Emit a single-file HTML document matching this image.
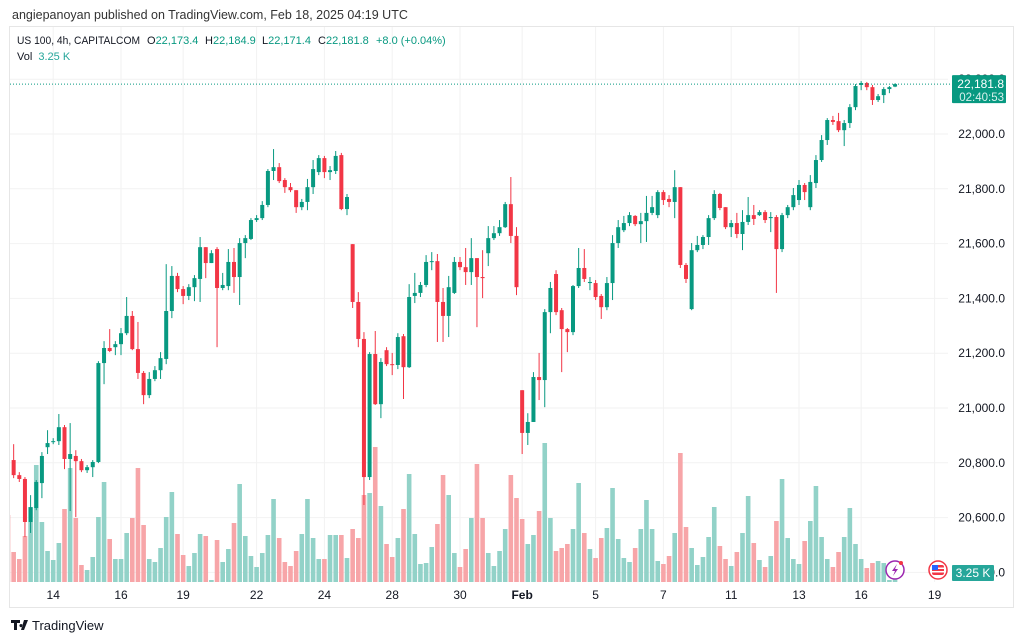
<!DOCTYPE html>
<html><head><meta charset="utf-8"><style>
html,body{margin:0;padding:0;background:#fff;}
svg{display:block;font-family:"Liberation Sans",sans-serif;}
</style></head><body>
<svg id="c" width="1024" height="641" viewBox="0 0 1024 641">
<defs><clipPath id="pane"><rect x="10" y="27" width="940" height="556"/></clipPath></defs>
<text x="12" y="19" font-size="12.5" fill="#333">angiepanoyan published on TradingView.com, Feb 18, 2025 04:19 UTC</text>
<rect x="9.5" y="26.5" width="1004" height="581" fill="none" stroke="#e6e6e6"/>
<g id="grid"></g>
<g id="vol" clip-path="url(#pane)"></g>
<g id="candles" clip-path="url(#pane)"></g>
<g id="axis"></g>
<g id="xaxis"></g>
<g font-size="11">
<text x="17" y="44" fill="#131722" textLength="123" lengthAdjust="spacingAndGlyphs">US 100, 4h, CAPITALCOM</text>
<text x="147" y="44" fill="#131722">O<tspan fill="#089981">22,173.4</tspan></text>
<text x="205" y="44" fill="#131722">H<tspan fill="#089981">22,184.9</tspan></text>
<text x="262" y="44" fill="#131722">L<tspan fill="#089981">22,171.4</tspan></text>
<text x="318" y="44" fill="#131722">C<tspan fill="#089981">22,181.8</tspan></text>
<text x="376" y="44" fill="#089981">+8.0 (+0.04%)</text>
<text x="17" y="60" fill="#131722">Vol <tspan fill="#26a69a" dx="3">3.25 K</tspan></text>
</g>
<g>
<path d="M11 620h9v3h-3v7h-3v-7h-3z M21 624a1.6 1.6 0 1 0 0.01 0z M24 620h4l-4 10h-3z" fill="#131722"/>
<text x="32" y="630" font-size="13" fill="#131722">TradingView</text></g>
<g><circle cx="895" cy="570" r="9" fill="#fff" stroke="#9c27b0" stroke-width="1.5"/><path d="M897 564l-5 7h3l-2 5 5-7h-3z" fill="#9c27b0"/><circle cx="901" cy="563" r="2" fill="#f23645"/></g>
<g><circle cx="938" cy="570" r="9" fill="#fff" stroke="#f23645" stroke-width="1.5"/><rect x="932" y="565" width="12" height="10" rx="2" fill="#f23645"/><rect x="932" y="567.5" width="12" height="1.5" fill="#fff"/><rect x="932" y="571" width="12" height="1.5" fill="#fff"/><rect x="932" y="565" width="6" height="5" fill="#2962ff"/></g>
</svg>
<script>
const opens=[20996,20810,20755,20741,20584,20635,20726,20857,20876,20879,20930,20814,20825,20806,20773,20784,20803,21164,21219,21222,21233,21273,21336,21215,21128,21047,21106,21138,21179,21354,21482,21434,21409,21441,21471,21587,21529,21580,21438,21445,21533,21478,21602,21617,21686,21693,21741,21865,21879,21832,21806,21795,21733,21752,21806,21861,21912,21861,21865,21923,21726,21598,21387,21252,20748,21197,21014,21211,21160,21157,21262,21149,21409,21420,21449,21533,21536,21387,21336,21420,21533,21514,21496,21547,21478,21565,21620,21638,21660,21744,21628,21065,20909,20949,21113,21102,21350,21489,21357,21288,21277,21445,21511,21456,21456,21409,21368,21456,21602,21649,21675,21701,21671,21682,21712,21704,21788,21763,21752,21806,21522,21361,21576,21595,21624,21693,21781,21733,21660,21675,21635,21679,21704,21704,21715,21693,21697,21580,21704,21733,21759,21814,21733,21821,21905,21978,22051,22047,22014,22040,22098,22179,22186,22171,22124,22142,22164,22173];
const highs=[20996,20868,20766,20748,20682,20737,20839,20919,20890,20978,20938,20945,20846,20814,20792,20810,21171,21244,21288,21244,21292,21405,21354,21314,21135,21131,21153,21204,21525,21518,21493,21445,21452,21485,21624,21587,21576,21587,21493,21580,21584,21620,21631,21693,21704,21755,21872,21945,21894,21839,21821,21795,21763,21836,21905,21923,21920,21883,21938,21931,21781,21598,21423,21277,21204,21281,21182,21222,21201,21273,21270,21452,21493,21460,21558,21569,21562,21438,21482,21551,21551,21584,21620,21547,21576,21664,21664,21686,21752,21843,21660,21065,20981,21131,21201,21361,21460,21503,21365,21292,21449,21584,21580,21478,21467,21416,21478,21631,21686,21701,21715,21704,21712,21774,21774,21795,21795,21777,21868,21806,21529,21602,21628,21631,21704,21795,21785,21733,21686,21712,21722,21770,21741,21722,21722,21715,21704,21712,21741,21803,21832,21821,21850,21923,21996,22058,22066,22077,22051,22109,22182,22193,22190,22179,22146,22171,22175,22185];
const lows=[20816,20744,20730,20529,20544,20627,20671,20832,20868,20865,20777,20624,20602,20766,20763,20748,20799,21087,21204,21193,21193,21266,21211,21106,21014,21036,21098,21106,21160,21328,21423,21379,21394,21390,21387,21474,21529,21222,21430,21430,21420,21376,21547,21613,21679,21686,21733,21832,21821,21785,21788,21712,21722,21722,21781,21850,21839,21832,21854,21722,21704,21365,21222,20646,20737,21011,20963,21153,21120,21142,21033,21146,21383,21405,21441,21503,21241,21241,21259,21416,21503,21449,21449,21295,21401,21518,21613,21628,21657,21602,21412,20832,20865,20949,21029,21003,21273,21339,21131,21204,21266,21438,21460,21430,21394,21325,21357,21394,21584,21642,21664,21664,21602,21606,21704,21693,21741,21733,21693,21511,21456,21357,21569,21580,21595,21686,21722,21653,21624,21620,21576,21668,21668,21701,21675,21642,21420,21569,21693,21722,21741,21759,21722,21803,21898,21960,22033,22007,21956,22022,22087,22160,22160,22106,22117,22113,22149,22171];
const closes=[20883,20755,20741,20584,20638,20730,20825,20872,20879,20930,20814,20832,20806,20773,20784,20803,21164,21219,21208,21233,21273,21336,21215,21128,21047,21106,21138,21182,21354,21482,21434,21409,21441,21474,21587,21529,21565,21438,21449,21533,21478,21602,21620,21686,21693,21741,21865,21879,21828,21806,21795,21733,21752,21806,21872,21912,21861,21868,21920,21726,21770,21387,21252,20748,21197,21014,21168,21160,21157,21259,21149,21405,21420,21449,21533,21536,21387,21336,21441,21533,21514,21496,21547,21478,21474,21620,21638,21660,21744,21628,21441,20909,20949,21113,21102,21350,21438,21350,21288,21277,21445,21511,21471,21460,21405,21368,21456,21602,21660,21675,21704,21671,21682,21712,21733,21788,21759,21752,21806,21522,21471,21576,21595,21624,21693,21781,21730,21660,21675,21635,21679,21704,21690,21715,21686,21697,21580,21704,21733,21777,21814,21788,21825,21905,21978,22051,22044,22014,22040,22098,22175,22186,22171,22124,22138,22164,22171,22182];
const volumes=[6.7,3.0,2.3,4.6,7.5,11.7,6.0,3.1,2.2,3.9,7.3,11.4,6.4,1.7,1.2,2.5,6.5,10.0,4.3,2.3,2.3,4.9,6.4,11.4,5.7,2.3,2.0,3.4,6.5,9.0,4.8,2.7,1.6,2.9,4.8,4.6,0.2,4.2,2.0,3.3,5.9,9.8,4.6,2.6,1.5,2.9,4.7,8.3,4.4,2.0,1.6,3.1,4.8,8.3,4.4,2.3,2.3,4.7,4.7,4.7,2.4,
5.3,4.4,8.7,8.9,13.5,7.6,3.8,2.5,4.4,7.3,10.8,4.8,1.8,1.9,3.5,5.8,10.7,8.7,2.9,1.5,3.3,6.4,11.8,6.4,2.9,1.6,3.1,5.3,10.7,8.4,6.3,3.8,4.7,7.1,13.9,6.4,3.1,3.4,3.8,5.3,9.9,4.9,3.3,2.4,4.4,5.4,9.4,4.3,2.4,2.0,3.4,5.3,8.2,5.3,
2.1,1.8,2.6,4.9,12.9,5.5,3.4,1.7,2.5,4.5,7.5,3.6,2.3,1.6,3.0,4.9,8.6,3.9,2.2,1.5,2.6,6.1,10.3,4.4,2.3,1.8,4.1,6.1,9.6,4.5,2.3,1.5,3.0,4.5,7.4,3.8,2.3,1.4,1.9,2.1,1.9,0.2,0.4];
const priceTicks=[22200,22000,21800,21600,21400,21200,21000,20800,20600,20400];
const timeLabels=["14","16","19","22","24","28","30","Feb","5","7","11","13","16","19"];
const timeIndex=[8,20,31,44,56,68,80,91,104,116,128,140,151,164];
const lastPrice=22181.8;

const NS="http://www.w3.org/2000/svg";
const X0=8,STEP=5.65,PR=948;
const xAt=i=>X0+STEP*i;
const yP=p=>134+(22000-p)/200*54.8;
const yV=v=>582-v*10;
function mk(tag,attrs,parent){const e=document.createElementNS(NS,tag);for(const k in attrs)e.setAttribute(k,attrs[k]);parent.appendChild(e);return e;}
const grid=document.getElementById('grid'),vol=document.getElementById('vol'),cg=document.getElementById('candles'),ax=document.getElementById('axis'),xa=document.getElementById('xaxis');
priceTicks.forEach(p=>{
  const l=mk('line',{x1:10,x2:PR,y1:yP(p),y2:yP(p),stroke:'#f2f2f2'},grid);
  
  
  const t=mk('text',{x:1005,y:yP(p)+4,'text-anchor':'end','font-size':12,fill:'#131722'},ax);
  
  
  t.textContent=p.toLocaleString('en-US')+'.0';
});
timeLabels.forEach((s,k)=>{
  const x=xAt(timeIndex[k]);
  const l=mk('line',{x1:x,x2:x,y1:27,y2:582,stroke:'#f2f2f2'},grid);
  
  
  const t=mk('text',{x:x,y:599,'text-anchor':'middle','font-size':12,fill:'#131722','font-weight':s==='Feb'?'bold':'normal'},xa);
  
  
  t.textContent=s;
});
const n=Math.min(opens.length,highs.length,lows.length,closes.length);
for(let i=0;i<volumes.length&&i<n;i++){
  const up=closes[i]>=opens[i];
  const r=mk('rect',{x:xAt(i)-2.3,y:yV(volumes[i]),width:4.6,height:582-yV(volumes[i]),fill:up?'#92d2c8':'#f7a5a8'},vol);
  
  
}
for(let i=0;i<n;i++){
  const up=closes[i]>=opens[i];const col=up?'#089981':'#f23645';const x=xAt(i);
  const w=mk('line',{x1:x,x2:x,y1:yP(highs[i]),y2:yP(lows[i]),stroke:col,'stroke-width':1},cg);
  
  
  const t=Math.min(yP(opens[i]),yP(closes[i]));const h=Math.max(1,Math.abs(yP(opens[i])-yP(closes[i])));
  const b=mk('rect',{x:x-2,y:t,width:4,height:h,fill:col},cg);
  
  
}
const ly=yP(lastPrice);
const pl=mk('line',{x1:10,x2:950,y1:ly,y2:ly,stroke:'#089981','stroke-dasharray':'1 2','stroke-width':1},ax);


const bx=mk('rect',{x:952,y:ly-9,width:54,height:28,fill:'#089981',rx:1},ax);


const t1=mk('text',{x:1004,y:ly+4,'text-anchor':'end','font-size':12,fill:'#fff'},ax);


t1.textContent='22,181.8';
const t2=mk('text',{x:1004,y:ly+17,'text-anchor':'end','font-size':11.5,fill:'#d7f0ec'},ax);


t2.textContent='02:40:53';
const vb=mk('rect',{x:952,y:565,width:42,height:16,fill:'#26a69a',rx:1},ax);


const vt=mk('text',{x:973,y:577,'text-anchor':'middle','font-size':12,fill:'#fff'},ax);


vt.textContent='3.25 K';
</script>
</body></html>
